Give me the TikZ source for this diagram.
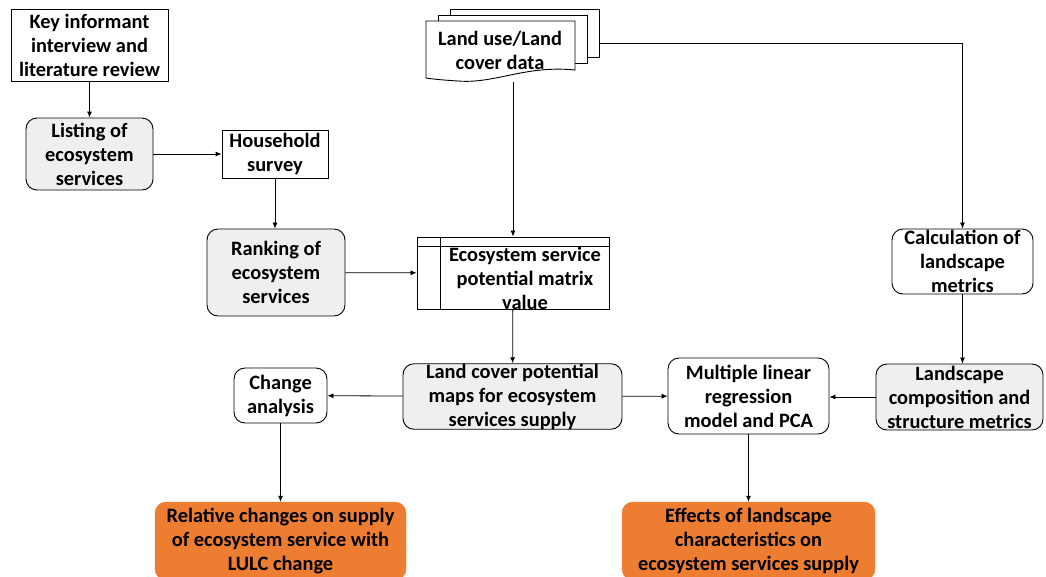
\documentclass[tikz,border=0pt]{standalone}
\usepackage{fontspec}
\setmainfont{Carlito}
\usetikzlibrary{arrows.meta}
\definecolor{boxgray}{HTML}{EFEFEF}
\definecolor{outorange}{HTML}{ED7D31}
\begin{document}
\begin{tikzpicture}[x=1pt,y=-1pt,
  txt/.style={font=\fontsize{20.4}{24}\selectfont\bfseries, align=center, inner sep=0pt},
  plainbox/.style={txt, draw=black, line width=0.9pt, fill=white},
  roundbox/.style={plainbox, rounded corners=11pt},
  graybox/.style={roundbox, fill=boxgray},
  resultbox/.style={txt, fill=outorange, draw=outorange, rounded corners=11pt},
  flow/.style={line width=0.8pt, -{Latex[length=6pt,width=5pt]}},
  sheet/.style={draw=black, line width=0.9pt, fill=white}]
\useasboundingbox (0,0) rectangle (1046,576);

% data source: stacked document sheets
\draw[sheet] (450,9) rectangle (599,57);
\draw[sheet] (438,15) rectangle (587,63);
\draw[sheet] (426,21) -- (575,21) -- (575,70)
  .. controls (525,65) and (495,84) .. (458,81)
  .. controls (442,80) and (432,79) .. (426,78) -- cycle;
\node[txt] (ludoc) at (500,50) {Land use/Land\\cover data};
\coordinate (docout) at (513,82);
\coordinate (docside) at (599,43);

% process boxes
\node[plainbox, minimum width=157pt, minimum height=72pt] (key) at (89.5,45) {Key informant\\interview and\\literature review};
\node[graybox, minimum width=127pt, minimum height=72pt] (list) at (89.5,154) {Listing of\\ecosystem\\services};
\node[plainbox, minimum width=106pt, minimum height=48pt] (house) at (275,154) {Household\\survey};
\node[graybox, minimum width=138pt, minimum height=87pt] (rank) at (276,272.5) {Ranking of\\ecosystem\\services};
\node[plainbox, minimum width=192pt, minimum height=72pt] (matrix) at (513,273) {};
\draw[line width=0.9pt] (matrix.north west) ++(0,10) -- ++(192,0);
\draw[line width=0.9pt] (matrix.north west) ++(24,0) -- ++(0,72);
\node[txt] (matrixtxt) at (525,278) {Ecosystem service\\potential matrix\\value};
\node[roundbox, minimum width=141pt, minimum height=65pt] (calc) at (962.5,261.5) {Calculation of\\landscape\\metrics};
\node[graybox, minimum width=167pt, minimum height=66pt] (lsc) at (959.5,397) {Landscape\\composition and\\structure metrics};
\node[roundbox, minimum width=161pt, minimum height=76pt] (mlr) at (748.5,396) {Multiple linear\\regression\\model and PCA};
\node[graybox, minimum width=219pt, minimum height=65pt] (lcp) at (512.5,396.5) {Land cover potential\\maps for ecosystem\\services supply};
\node[roundbox, minimum width=93pt, minimum height=55pt] (chg) at (280.5,395.5) {Change\\analysis};

% outcomes
\node[resultbox, minimum width=251pt, minimum height=78pt] (rel) at (280.5,541) {Relative changes on supply\\of ecosystem service with\\LULC change};
\node[resultbox, minimum width=253pt, minimum height=78pt] (eff) at (748.5,541) {Effects of landscape\\characteristics on\\ecosystem services supply};

% connectors
\draw[flow] (key) -- (list);
\draw[flow] (list) -- (house);
\draw[flow] (house) -- (house.south |- rank.north);
\draw[flow] (rank) -- (matrix);
\draw[flow] (docout) -- (matrix.north);
\draw[flow] (docside) -| (calc.north);
\draw[flow] (matrix) -- (lcp);
\draw[flow] (lcp) -- (chg);
\draw[flow] (lcp) -- (mlr);
\draw[flow] (lsc.west) -- (mlr.east |- lsc.west);
\draw[flow] (calc.south) -- (calc.south |- lsc.north);
\draw[flow] (chg) -- (rel);
\draw[flow] (mlr) -- (eff);
\end{tikzpicture}
\end{document}
